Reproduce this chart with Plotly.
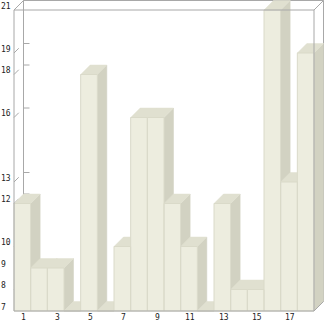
import plotly.graph_objects as go

# ---- data ----
categories = list(range(1, 19))
values = [12, 9, 9, 7, 18, 7, 10, 16, 16, 12, 10, 7, 12, 8, 8, 21, 13, 19]
y_tick_values = [7, 8, 9, 10, 12, 13, 16, 18, 19, 21]
x_tick_labels = [1, 3, 5, 7, 9, 11, 13, 15, 17]

# ---- style / geometry ----
W, H = 326, 321
Y_MIN, Y_MAX = 7, 21
PX_X = 300 / len(categories)          # px per category
PX_Y = 301 / (Y_MAX - Y_MIN)          # px per value unit
DEPTH_PX = 9.5
DX = DEPTH_PX / PX_X
DY = DEPTH_PX / PX_Y
X0 = 0.5 - 14 / PX_X
X1 = X0 + W / PX_X
Y1 = Y_MAX + 10 / PX_Y
Y0 = Y1 - H / PX_Y

FRONT = "#EDEDDF"
TOP = "#E0E0D0"
SIDE = "#D2D2C2"
SEAM = "#DADAC9"
FRAME = "#A8A8A8"

xl, xr = categories[0] - 0.5, categories[-1] + 0.5

fig = go.Figure()


def add_lines(segs, color=FRAME, width=1):
    xs, ys = [], []
    for (a, b), (c, d) in segs:
        xs += [a, c, None]
        ys += [b, d, None]
    fig.add_trace(go.Scatter(x=xs, y=ys, mode="lines", line=dict(color=color, width=width),
                             hoverinfo="skip", showlegend=False))


# back wall frame + ticks (under bars)
back = [
    ((xl + DX, Y_MIN + DY), (xl + DX, Y_MAX + DY)),
    ((xl + DX, Y_MAX + DY), (xr + DX, Y_MAX + DY)),
    ((xr + DX, Y_MIN + DY), (xr + DX, Y_MAX + DY)),
    ((xl, Y_MIN), (xl + DX, Y_MIN + DY)),
]
for v in y_tick_values:
    back.append(((xl + DX, v + DY), (xl + DX + 6 / PX_X, v + DY)))
    back.append(((xl, v), (xl + DX / 2, v + DY / 2)))
add_lines(back)


def polys(builder):
    xs, ys = [], []
    for c, v in zip(categories, values):
        pts = builder(c - 0.5, c + 0.5, v)
        for p in pts + [pts[0]]:
            xs.append(p[0]); ys.append(p[1])
        xs.append(None); ys.append(None)
    return xs, ys


sx, sy = polys(lambda L, R, h: [(R, Y_MIN), (R + DX, Y_MIN + DY), (R + DX, h + DY), (R, h)])
tx, ty = polys(lambda L, R, h: [(L, h), (R, h), (R + DX, h + DY), (L + DX, h + DY)])
fx, fy = polys(lambda L, R, h: [(L, Y_MIN), (R, Y_MIN), (R, h), (L, h)])

fig.add_trace(go.Scatter(x=sx, y=sy, mode="lines", fill="toself", fillcolor=SIDE,
                         line=dict(color=SIDE, width=0.5), hoverinfo="skip", showlegend=False))
fig.add_trace(go.Scatter(x=tx, y=ty, mode="lines", fill="toself", fillcolor=TOP,
                         line=dict(color=TOP, width=0.5), hoverinfo="skip", showlegend=False))
fig.add_trace(go.Scatter(x=fx, y=fy, mode="lines", fill="toself", fillcolor=FRONT,
                         line=dict(color=SEAM, width=1), hoverinfo="skip", showlegend=False))

# front frame (over bars)
front = [
    ((xl, Y_MIN), (xr, Y_MIN)),
    ((xl, Y_MIN), (xl, Y_MAX)),
    ((xl, Y_MAX), (xr, Y_MAX)),
    ((xr, Y_MIN), (xr, Y_MAX)),
    ((xl, Y_MAX), (xl + DX, Y_MAX + DY)),
    ((xr, Y_MAX), (xr + DX, Y_MAX + DY)),
    ((xr, Y_MIN), (xr + DX, Y_MIN + DY)),
]
add_lines(front)

font = dict(family="DejaVu Sans Mono", size=8, color="#222222")
ann = []
for v in y_tick_values:
    ann.append(dict(x=0, xref="paper", y=v + 4 / PX_Y, yref="y", text=str(v),
                    xanchor="left", yanchor="middle", showarrow=False, font=font, borderpad=0))
for c in x_tick_labels:
    ann.append(dict(x=c + 0.08, xref="x", y=Y_MIN - 6 / PX_Y, yref="y", text=str(c),
                    xanchor="center", yanchor="middle", showarrow=False, font=font, borderpad=0))

fig.update_layout(
    width=W, height=H,
    margin=dict(l=0, r=0, t=0, b=0),
    paper_bgcolor="white", plot_bgcolor="white",
    xaxis=dict(range=[X0, X1], visible=False, fixedrange=True),
    yaxis=dict(range=[Y0, Y1], visible=False, fixedrange=True),
    annotations=ann,
    showlegend=False,
)

fig.write_html("out.html")
